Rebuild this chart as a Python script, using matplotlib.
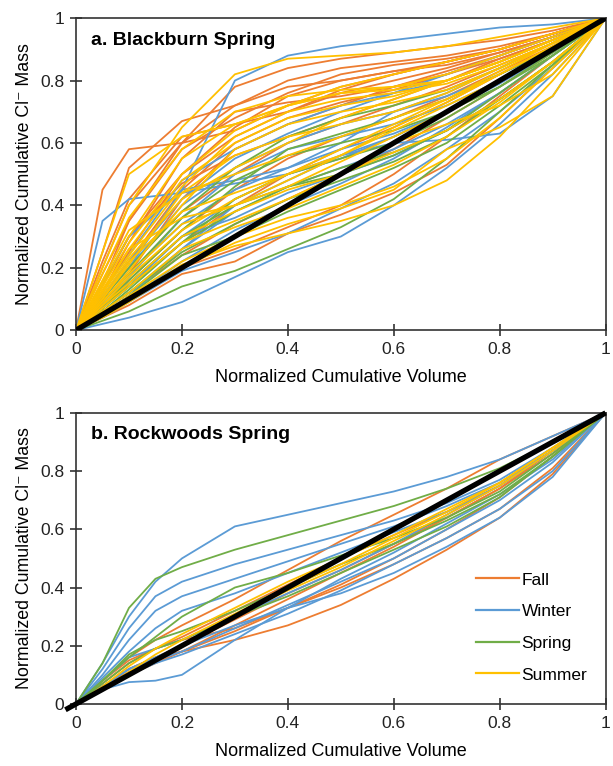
import numpy as np
import matplotlib
matplotlib.use('Agg')
import matplotlib.pyplot as plt
from matplotlib.lines import Line2D

plt.rcParams['font.family'] = ['Liberation Sans', 'DejaVu Sans']

# season colours (Excel defaults)
colors = {'Fall': '#ED7D31', 'Winter': '#5B9BD5', 'Spring': '#70AD47', 'Summer': '#FFC000'}

# ---- panel a: Blackburn Spring ----
xa = [0, 0.05, 0.1, 0.2, 0.3, 0.4, 0.5, 0.6, 0.7, 0.8, 0.9, 1.0]

fall_a = [
    [0, 0.45, 0.58, 0.60, 0.64, 0.72, 0.78, 0.82, 0.86, 0.90, 0.95, 1],
    [0, 0.25, 0.52, 0.67, 0.72, 0.78, 0.80, 0.83, 0.86, 0.90, 0.95, 1],
    [0, 0.15, 0.35, 0.60, 0.78, 0.84, 0.87, 0.89, 0.91, 0.93, 0.96, 1],
    [0, 0.20, 0.40, 0.60, 0.72, 0.80, 0.84, 0.86, 0.88, 0.91, 0.95, 1],
    [0, 0.18, 0.35, 0.58, 0.68, 0.76, 0.82, 0.85, 0.87, 0.90, 0.95, 1],
    [0, 0.15, 0.30, 0.50, 0.65, 0.75, 0.80, 0.83, 0.85, 0.89, 0.94, 1],
    [0, 0.12, 0.28, 0.55, 0.70, 0.73, 0.75, 0.78, 0.82, 0.87, 0.93, 1],
    [0, 0.10, 0.22, 0.45, 0.60, 0.68, 0.73, 0.77, 0.82, 0.88, 0.94, 1],
    [0, 0.10, 0.20, 0.38, 0.50, 0.60, 0.66, 0.72, 0.78, 0.85, 0.92, 1],
    [0, 0.08, 0.16, 0.32, 0.45, 0.55, 0.62, 0.68, 0.75, 0.83, 0.91, 1],
    [0, 0.07, 0.14, 0.28, 0.40, 0.50, 0.58, 0.65, 0.73, 0.82, 0.91, 1],
    [0, 0.06, 0.12, 0.24, 0.34, 0.42, 0.50, 0.58, 0.68, 0.78, 0.89, 1],
    [0, 0.04, 0.08, 0.18, 0.22, 0.31, 0.37, 0.44, 0.53, 0.68, 0.84, 1],
    [0, 0.05, 0.10, 0.20, 0.26, 0.33, 0.40, 0.50, 0.62, 0.75, 0.88, 1],
    [0, 0.22, 0.42, 0.62, 0.66, 0.70, 0.76, 0.80, 0.84, 0.89, 0.94, 1],
    [0, 0.12, 0.25, 0.50, 0.62, 0.70, 0.77, 0.82, 0.86, 0.90, 0.95, 1],
    [0, 0.09, 0.18, 0.42, 0.58, 0.66, 0.72, 0.78, 0.83, 0.88, 0.94, 1],
    [0, 0.14, 0.30, 0.47, 0.56, 0.62, 0.68, 0.74, 0.80, 0.87, 0.93, 1],
]
winter_a = [
    [0, 0.35, 0.42, 0.44, 0.47, 0.50, 0.55, 0.62, 0.70, 0.80, 0.90, 1],
    [0, 0.10, 0.20, 0.45, 0.80, 0.88, 0.91, 0.93, 0.95, 0.97, 0.98, 1],
    [0, 0.02, 0.04, 0.09, 0.17, 0.25, 0.30, 0.40, 0.52, 0.66, 0.82, 1],
    [0, 0.08, 0.15, 0.30, 0.42, 0.50, 0.56, 0.60, 0.61, 0.63, 0.75, 1],
    [0, 0.10, 0.20, 0.40, 0.52, 0.60, 0.66, 0.70, 0.75, 0.82, 0.90, 1],
    [0, 0.06, 0.12, 0.26, 0.38, 0.46, 0.52, 0.58, 0.66, 0.76, 0.88, 1],
    [0, 0.12, 0.24, 0.48, 0.58, 0.66, 0.72, 0.76, 0.80, 0.86, 0.93, 1],
    [0, 0.05, 0.10, 0.22, 0.32, 0.40, 0.47, 0.55, 0.65, 0.76, 0.88, 1],
    [0, 0.09, 0.18, 0.34, 0.45, 0.52, 0.58, 0.63, 0.70, 0.79, 0.89, 1],
    [0, 0.04, 0.09, 0.19, 0.25, 0.31, 0.39, 0.47, 0.58, 0.70, 0.84, 1],
    [0, 0.11, 0.22, 0.42, 0.55, 0.63, 0.70, 0.76, 0.82, 0.88, 0.94, 1],
    [0, 0.07, 0.14, 0.30, 0.36, 0.44, 0.50, 0.56, 0.64, 0.74, 0.86, 1],
    [0, 0.15, 0.30, 0.45, 0.48, 0.52, 0.60, 0.70, 0.76, 0.84, 0.92, 1],
    [0, 0.08, 0.17, 0.36, 0.50, 0.58, 0.62, 0.66, 0.72, 0.80, 0.90, 1],
    [0, 0.05, 0.11, 0.26, 0.40, 0.48, 0.56, 0.62, 0.70, 0.80, 0.90, 1],
]
spring_a = [
    [0, 0.03, 0.06, 0.14, 0.19, 0.26, 0.33, 0.42, 0.55, 0.70, 0.85, 1],
    [0, 0.07, 0.14, 0.28, 0.38, 0.46, 0.52, 0.57, 0.64, 0.74, 0.86, 1],
    [0, 0.08, 0.16, 0.32, 0.46, 0.58, 0.63, 0.68, 0.74, 0.82, 0.90, 1],
    [0, 0.06, 0.12, 0.25, 0.34, 0.42, 0.48, 0.54, 0.62, 0.74, 0.86, 1],
    [0, 0.09, 0.18, 0.36, 0.48, 0.56, 0.60, 0.64, 0.70, 0.78, 0.88, 1],
    [0, 0.05, 0.11, 0.24, 0.30, 0.38, 0.45, 0.52, 0.60, 0.72, 0.85, 1],
    [0, 0.10, 0.20, 0.38, 0.52, 0.62, 0.68, 0.72, 0.77, 0.84, 0.92, 1],
    [0, 0.06, 0.13, 0.28, 0.42, 0.50, 0.55, 0.60, 0.68, 0.78, 0.89, 1],
    [0, 0.07, 0.15, 0.30, 0.40, 0.46, 0.50, 0.56, 0.64, 0.76, 0.88, 1],
]
summer_a = [
    [0, 0.20, 0.40, 0.65, 0.82, 0.87, 0.88, 0.89, 0.91, 0.94, 0.97, 1],
    [0, 0.25, 0.50, 0.62, 0.66, 0.72, 0.76, 0.78, 0.80, 0.86, 0.93, 1],
    [0, 0.18, 0.36, 0.58, 0.70, 0.75, 0.77, 0.78, 0.82, 0.88, 0.94, 1],
    [0, 0.15, 0.30, 0.55, 0.66, 0.72, 0.76, 0.77, 0.80, 0.86, 0.93, 1],
    [0, 0.12, 0.26, 0.48, 0.60, 0.68, 0.72, 0.75, 0.80, 0.86, 0.93, 1],
    [0, 0.10, 0.22, 0.38, 0.44, 0.50, 0.56, 0.64, 0.72, 0.80, 0.90, 1],
    [0, 0.09, 0.18, 0.34, 0.40, 0.48, 0.56, 0.65, 0.73, 0.82, 0.91, 1],
    [0, 0.08, 0.15, 0.30, 0.38, 0.45, 0.50, 0.57, 0.64, 0.74, 0.86, 1],
    [0, 0.05, 0.11, 0.22, 0.30, 0.36, 0.40, 0.46, 0.55, 0.68, 0.84, 1],
    [0, 0.04, 0.09, 0.20, 0.28, 0.34, 0.39, 0.45, 0.58, 0.65, 0.75, 1],
    [0, 0.07, 0.14, 0.28, 0.35, 0.42, 0.50, 0.60, 0.66, 0.72, 0.82, 1],
    [0, 0.11, 0.23, 0.42, 0.52, 0.60, 0.68, 0.74, 0.80, 0.86, 0.93, 1],
    [0, 0.06, 0.12, 0.26, 0.33, 0.39, 0.46, 0.53, 0.62, 0.73, 0.86, 1],
    [0, 0.14, 0.28, 0.50, 0.64, 0.72, 0.78, 0.82, 0.86, 0.90, 0.95, 1],
    [0, 0.05, 0.10, 0.21, 0.27, 0.31, 0.35, 0.40, 0.48, 0.62, 0.80, 1],
    [0, 0.16, 0.32, 0.44, 0.50, 0.56, 0.62, 0.68, 0.74, 0.82, 0.91, 1],
    [0, 0.09, 0.19, 0.40, 0.58, 0.66, 0.70, 0.73, 0.77, 0.84, 0.92, 1],
    [0, 0.13, 0.26, 0.36, 0.40, 0.46, 0.54, 0.62, 0.70, 0.80, 0.90, 1],
    [0, 0.10, 0.21, 0.44, 0.56, 0.62, 0.66, 0.70, 0.76, 0.84, 0.92, 1],
    [0, 0.08, 0.17, 0.32, 0.42, 0.50, 0.58, 0.66, 0.74, 0.83, 0.92, 1],
    [0, 0.12, 0.24, 0.46, 0.62, 0.70, 0.74, 0.76, 0.79, 0.85, 0.92, 1],
]

# ---- panel b: Rockwoods Spring ----
xb = [0, 0.05, 0.1, 0.15, 0.2, 0.3, 0.4, 0.5, 0.6, 0.7, 0.8, 0.9, 1.0]

fall_b = [
    [0, 0.06, 0.12, 0.16, 0.18, 0.22, 0.27, 0.34, 0.43, 0.53, 0.64, 0.79, 1],
    [0, 0.07, 0.14, 0.19, 0.22, 0.26, 0.33, 0.40, 0.48, 0.57, 0.67, 0.81, 1],
    [0, 0.08, 0.16, 0.22, 0.27, 0.36, 0.46, 0.56, 0.65, 0.74, 0.84, 0.92, 1],
    [0, 0.08, 0.15, 0.19, 0.23, 0.32, 0.41, 0.50, 0.58, 0.66, 0.75, 0.87, 1],
    [0, 0.06, 0.12, 0.16, 0.20, 0.29, 0.38, 0.46, 0.55, 0.64, 0.74, 0.86, 1],
    [0, 0.05, 0.10, 0.14, 0.18, 0.27, 0.36, 0.45, 0.54, 0.64, 0.74, 0.87, 1],
    [0, 0.06, 0.11, 0.15, 0.18, 0.25, 0.33, 0.41, 0.50, 0.60, 0.71, 0.85, 1],
]
winter_b = [
    [0, 0.14, 0.30, 0.42, 0.50, 0.61, 0.65, 0.69, 0.73, 0.78, 0.84, 0.92, 1],
    [0, 0.12, 0.26, 0.37, 0.42, 0.48, 0.53, 0.58, 0.63, 0.69, 0.77, 0.88, 1],
    [0, 0.10, 0.22, 0.32, 0.37, 0.43, 0.49, 0.55, 0.61, 0.68, 0.76, 0.87, 1],
    [0, 0.09, 0.18, 0.26, 0.32, 0.38, 0.45, 0.52, 0.59, 0.66, 0.75, 0.87, 1],
    [0, 0.05, 0.075, 0.08, 0.10, 0.22, 0.33, 0.43, 0.52, 0.62, 0.72, 0.84, 1],
    [0, 0.08, 0.16, 0.19, 0.22, 0.30, 0.38, 0.46, 0.55, 0.65, 0.75, 0.87, 1],
    [0, 0.06, 0.12, 0.15, 0.18, 0.26, 0.34, 0.42, 0.50, 0.60, 0.70, 0.83, 1],
    [0, 0.05, 0.10, 0.14, 0.17, 0.24, 0.31, 0.39, 0.48, 0.57, 0.67, 0.80, 1],
    [0, 0.06, 0.12, 0.16, 0.20, 0.27, 0.33, 0.38, 0.45, 0.54, 0.64, 0.78, 1],
]
spring_b = [
    [0, 0.14, 0.33, 0.43, 0.47, 0.53, 0.58, 0.63, 0.68, 0.74, 0.81, 0.90, 1],
    [0, 0.08, 0.16, 0.23, 0.30, 0.40, 0.45, 0.51, 0.57, 0.64, 0.73, 0.86, 1],
    [0, 0.08, 0.17, 0.22, 0.25, 0.32, 0.40, 0.48, 0.55, 0.63, 0.72, 0.85, 1],
    [0, 0.07, 0.14, 0.19, 0.22, 0.30, 0.37, 0.45, 0.53, 0.61, 0.71, 0.85, 1],
]
summer_b = [
    [0, 0.06, 0.13, 0.19, 0.24, 0.33, 0.42, 0.50, 0.58, 0.67, 0.76, 0.88, 1],
    [0, 0.05, 0.11, 0.17, 0.22, 0.31, 0.40, 0.48, 0.57, 0.66, 0.76, 0.88, 1],
    [0, 0.05, 0.10, 0.15, 0.20, 0.30, 0.39, 0.47, 0.56, 0.65, 0.75, 0.87, 1],
]

panels = [
    ('a. Blackburn Spring', xa, {'Fall': fall_a, 'Winter': winter_a, 'Spring': spring_a, 'Summer': summer_a}),
    ('b. Rockwoods Spring', xb, {'Fall': fall_b, 'Winter': winter_b, 'Spring': spring_b, 'Summer': summer_b}),
]

fig = plt.figure(figsize=(6.13, 7.66), dpi=100)
ax_a = fig.add_axes([0.124, 0.569, 0.864, 0.4073])
ax_b = fig.add_axes([0.124, 0.081, 0.864, 0.380])

for i, (ax, (title, xs, groups)) in enumerate(zip([ax_a, ax_b], panels)):
    for season, curves in groups.items():
        for ys in curves:
            ax.plot(xs, ys, color=colors[season], lw=1.3, solid_joinstyle='round')
    # 1:1 line (runs a little past the origin in panel b)
    start = 0 if i == 0 else -0.02
    ax.plot([start, 1], [start, 1], color='black', lw=3.8, solid_capstyle='butt',
            zorder=5, clip_on=(i == 0))
    ax.set_xlim(0, 1)
    ax.set_ylim(0, 1)
    ticks = [0, 0.2, 0.4, 0.6, 0.8, 1]
    labels = ['0', '0.2', '0.4', '0.6', '0.8', '1']
    ax.set_xticks(ticks)
    ax.set_xticklabels(labels)
    ax.set_yticks(ticks)
    ax.set_yticklabels(labels)
    ax.tick_params(direction='inout', length=9, width=1.1, labelsize=12.5, colors='#222222', pad=4)
    for s in ax.spines.values():
        s.set_linewidth(1.2)
        s.set_color('#333333')
    ax.set_xlabel('Normalized Cumulative Volume', fontsize=13, labelpad=9)
    ax.set_ylabel('Normalized Cumulative Cl⁻ Mass', fontsize=12.8, labelpad=5)
    ax.text(0.028, 0.955, title, transform=ax.transAxes, fontsize=14, fontweight='bold',
            va='top', ha='left')

handles = [Line2D([0], [0], color=colors[s], lw=1.6) for s in colors]
ax_b.legend(handles, list(colors.keys()), loc='lower right', bbox_to_anchor=(0.995, 0.02),
            frameon=False, fontsize=12.5, handlelength=2.5, handletextpad=0.15, labelspacing=0.95)

fig.savefig('out.png', dpi=100)
